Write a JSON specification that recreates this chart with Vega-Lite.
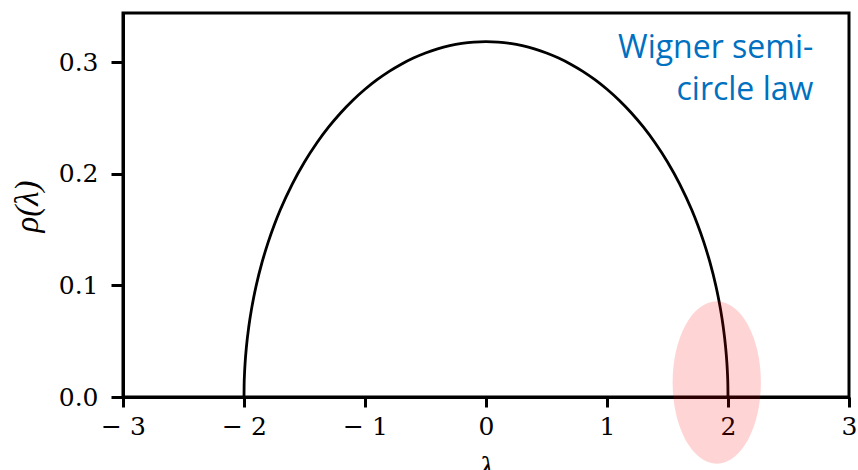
{
  "$schema": "https://vega.github.io/schema/vega-lite/v6.json",
  "autosize": "none",
  "width": 726,
  "height": 384,
  "padding": {"left": 123, "top": 13, "right": 9, "bottom": 73},
  "background": "white",
  "datasets": {
    "density": [
      {"lam": -2.0, "rho": 0.0},
      {"lam": -1.999, "rho": 0.010065},
      {"lam": -1.995, "rho": 0.022494},
      {"lam": -1.99, "rho": 0.031791},
      {"lam": -1.98, "rho": 0.044903},
      {"lam": -1.96, "rho": 0.063342},
      {"lam": -1.94, "rho": 0.077383},
      {"lam": -1.92, "rho": 0.089127},
      {"lam": -1.9, "rho": 0.099392},
      {"lam": -1.85, "rho": 0.120947},
      {"lam": -1.8, "rho": 0.138747},
      {"lam": -1.75, "rho": 0.154102},
      {"lam": -1.7, "rho": 0.167682},
      {"lam": -1.6, "rho": 0.190986},
      {"lam": -1.5, "rho": 0.210543},
      {"lam": -1.4, "rho": 0.227319},
      {"lam": -1.3, "rho": 0.241895},
      {"lam": -1.2, "rho": 0.254648},
      {"lam": -1.1, "rho": 0.265842},
      {"lam": -1.0, "rho": 0.275664},
      {"lam": -0.9, "rho": 0.28426},
      {"lam": -0.8, "rho": 0.291735},
      {"lam": -0.7, "rho": 0.298176},
      {"lam": -0.6, "rho": 0.303648},
      {"lam": -0.5, "rho": 0.308201},
      {"lam": -0.4, "rho": 0.311878},
      {"lam": -0.3, "rho": 0.314708},
      {"lam": -0.2, "rho": 0.316713},
      {"lam": -0.1, "rho": 0.317911},
      {"lam": 0.0, "rho": 0.31831},
      {"lam": 0.1, "rho": 0.317911},
      {"lam": 0.2, "rho": 0.316713},
      {"lam": 0.3, "rho": 0.314708},
      {"lam": 0.4, "rho": 0.311878},
      {"lam": 0.5, "rho": 0.308201},
      {"lam": 0.6, "rho": 0.303648},
      {"lam": 0.7, "rho": 0.298176},
      {"lam": 0.8, "rho": 0.291735},
      {"lam": 0.9, "rho": 0.28426},
      {"lam": 1.0, "rho": 0.275664},
      {"lam": 1.1, "rho": 0.265842},
      {"lam": 1.2, "rho": 0.254648},
      {"lam": 1.3, "rho": 0.241895},
      {"lam": 1.4, "rho": 0.227319},
      {"lam": 1.5, "rho": 0.210543},
      {"lam": 1.6, "rho": 0.190986},
      {"lam": 1.7, "rho": 0.167682},
      {"lam": 1.75, "rho": 0.154102},
      {"lam": 1.8, "rho": 0.138747},
      {"lam": 1.85, "rho": 0.120947},
      {"lam": 1.9, "rho": 0.099392},
      {"lam": 1.92, "rho": 0.089127},
      {"lam": 1.94, "rho": 0.077383},
      {"lam": 1.96, "rho": 0.063342},
      {"lam": 1.98, "rho": 0.044903},
      {"lam": 1.99, "rho": 0.031791},
      {"lam": 1.995, "rho": 0.022494},
      {"lam": 1.999, "rho": 0.010065},
      {"lam": 2.0, "rho": 0.0}
    ],
    "notes": [
      {"kind": "edge", "lam": 1.907, "rho": 0.013},
      {"kind": "label", "lam": 2.705, "rho": 0.3036, "text": "Wigner semi-\ncircle law"}
    ]
  },
  "encoding": {
    "x": {
      "field": "lam",
      "type": "quantitative",
      "scale": {"domain": [-3, 3], "nice": false, "zero": false},
      "axis": {
        "title": "λ",
        "values": [-3, -2, -1, 0, 1, 2, 3],
        "labelExpr": "datum.value < 0 ? '\u2212 ' + (-datum.value) : '' + datum.value",
        "tickSize": 10,
        "labelPadding": 7,
        "titleFontStyle": "italic",
        "titleFontSize": 32,
        "titleFontWeight": "normal",
        "titleBaseline": "alphabetic",
        "titleY": 80,
        "titleX": 363
      }
    },
    "y": {
      "field": "rho",
      "type": "quantitative",
      "scale": {"domain": [0, 0.344], "nice": false},
      "axis": {
        "title": "ρ(λ)",
        "values": [0, 0.1, 0.2, 0.3],
        "format": ".1f",
        "tickSize": 12,
        "labelPadding": 13,
        "titleFontStyle": "italic",
        "titleFontSize": 33,
        "titleFontWeight": "normal",
        "titleAngle": -90,
        "titleBaseline": "middle",
        "titleAlign": "center",
        "titleX": -96,
        "titleY": 193
      }
    }
  },
  "layer": [
    {
      "data": {"name": "density"},
      "mark": {"type": "line", "color": "black", "strokeWidth": 2.8, "interpolate": "monotone"}
    },
    {
      "data": {"name": "notes"},
      "transform": [{"filter": "datum.kind === 'edge'"}],
      "mark": {
        "type": "point",
        "shape": "M0,-1A0.544,1,0,0,1,0,1A0.544,1,0,0,1,0,-1Z",
        "size": 26341,
        "filled": true,
        "fill": "#ff0000",
        "fillOpacity": 0.17,
        "strokeWidth": 0
      }
    },
    {
      "data": {"name": "notes"},
      "transform": [{"filter": "datum.kind === 'label'"}],
      "mark": {
        "type": "text",
        "align": "right",
        "baseline": "alphabetic",
        "lineBreak": "\n",
        "lineHeight": 42,
        "font": "Open Sans",
        "fontSize": 32,
        "color": "#0070c0"
      },
      "encoding": {"text": {"field": "text"}}
    }
  ],
  "config": {
    "view": {"stroke": "black", "strokeWidth": 3},
    "axis": {
      "grid": false,
      "labelFlush": false,
      "labelOverlap": false,
      "domainColor": "black",
      "domainWidth": 3,
      "tickColor": "black",
      "tickWidth": 3,
      "labelFont": "DejaVu Serif",
      "labelFontSize": 25,
      "labelColor": "black",
      "titleFont": "Liberation Serif",
      "titleColor": "black"
    }
  }
}
